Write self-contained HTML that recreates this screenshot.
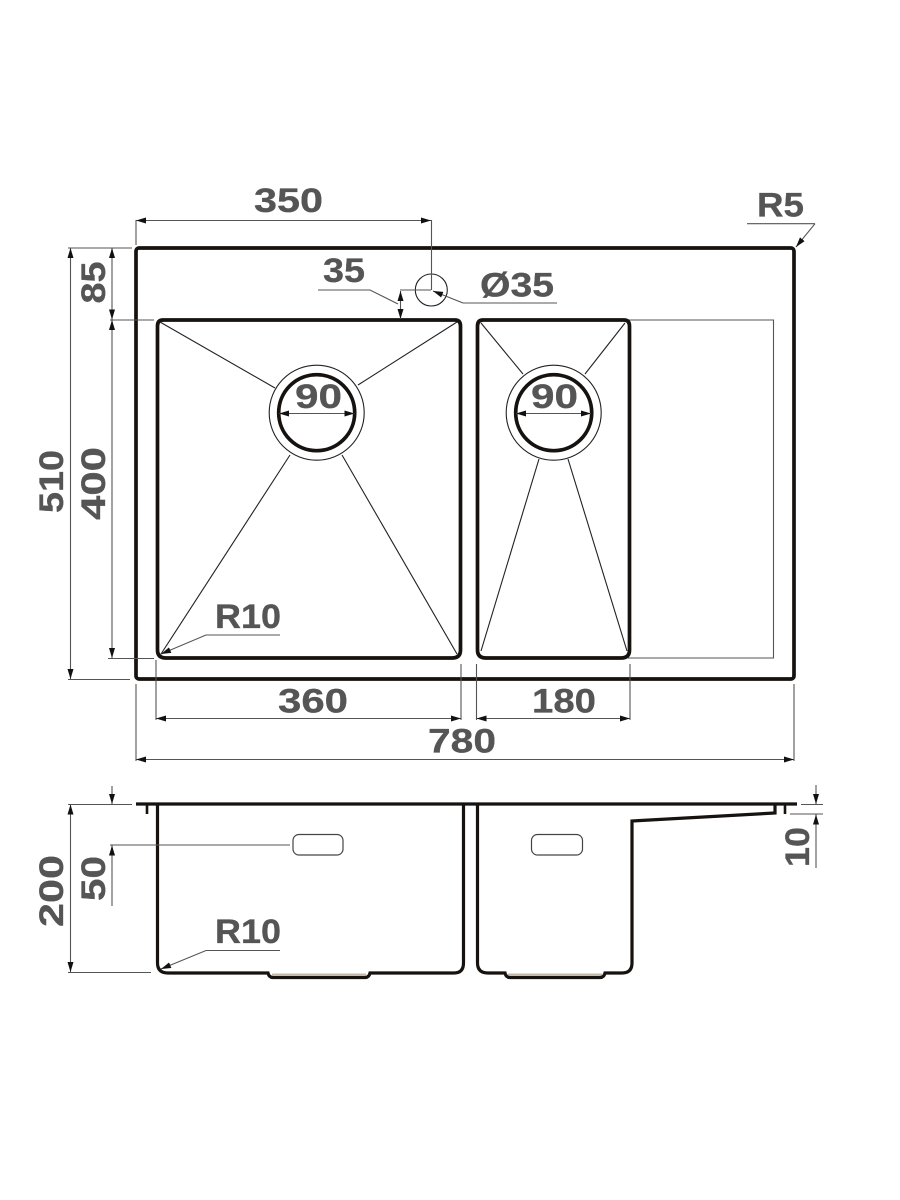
<!DOCTYPE html>
<html><head><meta charset="utf-8"><style>
html,body{margin:0;padding:0;background:#fff}
svg{display:block;filter:blur(0.3px)}
text{font-family:"Liberation Sans",sans-serif;font-weight:bold;font-size:34px;fill:#555;stroke:#555;stroke-width:0.3}
.k{fill:none;stroke:#15120f;stroke-width:3.7}
.s{fill:none;stroke:#15120f;stroke-width:3.2}
.t{fill:none;stroke:#555;stroke-width:1.1}
.m{fill:none;stroke:#222;stroke-width:1.1}
</style></head><body>
<svg width="900" height="1200" viewBox="0 0 900 1200" xmlns="http://www.w3.org/2000/svg">
<defs><marker id="a" viewBox="0 0 10 6" refX="10" refY="3" markerUnits="userSpaceOnUse" markerWidth="10" markerHeight="6" orient="auto-start-reverse"><path d="M0 0L10 3L0 6z" fill="#111"/></marker></defs>
<rect width="900" height="1200" fill="#fff"/>

<!-- top view -->
<path class="t" d="M628 320H773.5V658H628"/>
<rect class="k" x="136" y="248" width="658" height="431" rx="3"/>
<path class="k" d="M163 320H455Q460.5 320 460.5 326V650Q460.5 658 452 658H166Q157.5 658 157.5 650V326Q157.5 320 163 320Z"/>
<path class="k" d="M483 320H624Q629.5 320 629.5 326V650Q629.5 658 621 658H486Q477.5 658 477.5 650V326Q477.5 320 483 320Z"/>
<g class="m">
<path d="M160 322L275 388M457 322L358 385M161 654L290 455M457 654L342 455"/>
<path d="M481 323L523 374M625 323L585 374M481 651L539 459M627 651L568 459"/>
<circle cx="316.7" cy="412.7" r="47.5"/>
<circle cx="553.7" cy="412.7" r="47.5"/>
<circle cx="431.3" cy="290" r="16"/>
</g>
<circle class="k" cx="316.7" cy="412.7" r="38"/>
<circle class="k" cx="553.7" cy="412.7" r="38"/>

<!-- dimension lines -->
<g class="t">
<line x1="136" y1="220.5" x2="431" y2="220.5" marker-start="url(#a)" marker-end="url(#a)"/>
<path d="M136 220V245M431.5 220V290M400 290H431"/>
<path d="M318 290H370L398 304"/>
<line x1="400.5" y1="304" x2="400.5" y2="291" marker-end="url(#a)"/>
<line x1="400.5" y1="304" x2="400.5" y2="319" marker-end="url(#a)"/>
<line x1="557" y1="303" x2="463" y2="303"/>
<polyline points="463,303 433,291" marker-end="url(#a)"/>
<path d="M747 223.7H815"/>
<line x1="815" y1="223.7" x2="796" y2="247" marker-end="url(#a)"/>
<polyline points="280,635 206,635 161,654" marker-end="url(#a)"/>
<line x1="279" y1="413.5" x2="354.5" y2="413.5" marker-start="url(#a)" marker-end="url(#a)"/>
<line x1="516" y1="413.5" x2="591" y2="413.5" marker-start="url(#a)" marker-end="url(#a)"/>

<path d="M68 248H132M110 320H154M108 658.5H154M68 679.5H130"/>
<line x1="70.5" y1="248" x2="70.5" y2="679" marker-start="url(#a)" marker-end="url(#a)"/>
<line x1="112" y1="248" x2="112" y2="319.5" marker-start="url(#a)" marker-end="url(#a)"/>
<line x1="112" y1="320" x2="112" y2="658" marker-start="url(#a)" marker-end="url(#a)"/>

<path d="M156 660V720M461 664V720M476.5 664V720M630 664V720M136 684V761M794 684V761"/>
<line x1="156" y1="718.5" x2="461" y2="718.5" marker-start="url(#a)" marker-end="url(#a)"/>
<line x1="476.5" y1="718.5" x2="630" y2="718.5" marker-start="url(#a)" marker-end="url(#a)"/>
<line x1="136" y1="759.5" x2="794" y2="759.5" marker-start="url(#a)" marker-end="url(#a)"/>
</g>

<!-- side view -->
<path class="s" d="M136 804H797"/>
<path class="s" d="M157.5 804V963Q157.5 973 168 973H268Q269 977.5 273 977.5H365Q369 977.5 370 973H454Q463.5 973 463.5 963V804"/>
<path class="s" d="M477.5 804V963Q477.5 973 488 973H505Q506 977.5 510 977.5H600Q604 977.5 605 973H622Q632 973 632 963V821L775 813V804"/>
<path d="M147 804V814M785 804V814" fill="none" stroke="#15120f" stroke-width="2.6"/>
<path d="M272 974.5H366M508 974.5H602" stroke="#c4b8aa" stroke-width="2" fill="none"/>
<rect x="293" y="834.5" width="50" height="20.5" rx="6" fill="none" stroke="#444" stroke-width="1.2"/>
<rect x="531.5" y="834.5" width="51" height="20.5" rx="6" fill="none" stroke="#444" stroke-width="1.2"/>

<g class="t">
<path d="M68 804.5H132M68 972.5H151M110 845H290M801 804.5H823M790 814H823"/>
<line x1="70.5" y1="804.5" x2="70.5" y2="972" marker-start="url(#a)" marker-end="url(#a)"/>
<line x1="112" y1="786" x2="112" y2="804" marker-end="url(#a)"/>
<line x1="112" y1="906" x2="112" y2="845.5" marker-end="url(#a)"/>
<line x1="816" y1="785" x2="816" y2="804" marker-end="url(#a)"/>
<line x1="816" y1="868" x2="816" y2="814.5" marker-end="url(#a)"/>
<polyline points="280,950.5 206,950.5 161,969" marker-end="url(#a)"/>
</g>

<!-- labels -->
<text x="254" y="212" textLength="69" lengthAdjust="spacingAndGlyphs">350</text>
<text x="323" y="282" textLength="42" lengthAdjust="spacingAndGlyphs">35</text>
<text x="480" y="296.5" textLength="74" lengthAdjust="spacingAndGlyphs">Ø35</text>
<text x="757" y="216.5" textLength="47" lengthAdjust="spacingAndGlyphs">R5</text>
<text x="295" y="408" textLength="47" lengthAdjust="spacingAndGlyphs">90</text>
<text x="531" y="408" textLength="47" lengthAdjust="spacingAndGlyphs">90</text>
<text x="215" y="628" textLength="66" lengthAdjust="spacingAndGlyphs">R10</text>
<text x="278" y="712.5" textLength="70" lengthAdjust="spacingAndGlyphs">360</text>
<text x="532" y="712.5" textLength="64" lengthAdjust="spacingAndGlyphs">180</text>
<text x="428" y="752.5" textLength="68" lengthAdjust="spacingAndGlyphs">780</text>
<text x="215" y="943" textLength="66" lengthAdjust="spacingAndGlyphs">R10</text>
<text transform="translate(105 303.5) rotate(-90)" textLength="42" lengthAdjust="spacingAndGlyphs">85</text>
<text transform="translate(105 520) rotate(-90)" textLength="73" lengthAdjust="spacingAndGlyphs">400</text>
<text transform="translate(63 513) rotate(-90)" textLength="63" lengthAdjust="spacingAndGlyphs">510</text>
<text transform="translate(63 927) rotate(-90)" textLength="72" lengthAdjust="spacingAndGlyphs">200</text>
<text transform="translate(105 901) rotate(-90)" textLength="45" lengthAdjust="spacingAndGlyphs">50</text>
<text transform="translate(809 867) rotate(-90)" textLength="40" lengthAdjust="spacingAndGlyphs">10</text>
</svg>
</body></html>
